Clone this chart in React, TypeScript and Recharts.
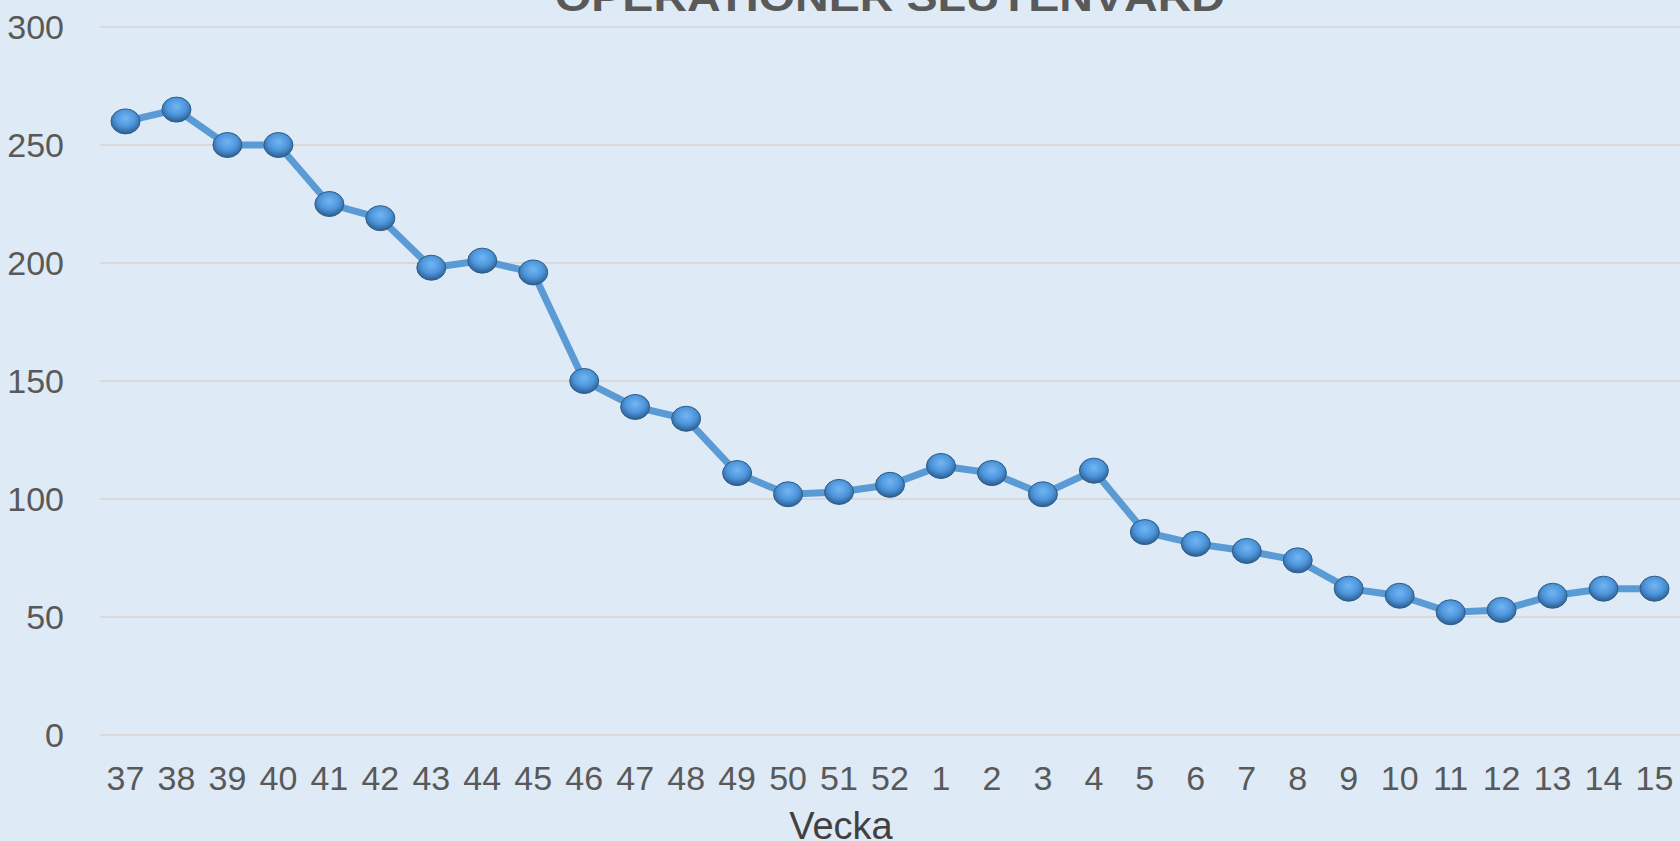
import { CartesianGrid, Line, LineChart, XAxis, YAxis } from 'recharts';

const weeks = ['37', '38', '39', '40', '41', '42', '43', '44', '45', '46', '47', '48', '49', '50', '51', '52', '1', '2', '3', '4', '5', '6', '7', '8', '9', '10', '11', '12', '13', '14', '15'];
const operations = [260, 265, 250, 250, 225, 219, 198, 201, 196, 150, 139, 134, 111, 102, 103, 106, 114, 111, 102, 112, 86, 81, 78, 74, 62, 59, 52, 53, 59, 62, 62];
const yTicks = [0, 50, 100, 150, 200, 250, 300];

const data = weeks.map((week, i) => ({ week, value: operations[i] }));

const FONT = '"Liberation Sans", Arial, sans-serif';

function XTick({ x, y, payload }: any) {
  return (
    <text x={x} y={y + 55} textAnchor="middle" fill="#595959" fontSize={34} fontFamily={FONT}>
      {payload.value}
    </text>
  );
}

function YTick({ x, y, payload }: any) {
  return (
    <text x={x} y={y + 12} textAnchor="end" fill="#595959" fontSize={34} fontFamily={FONT}>
      {payload.value}
    </text>
  );
}

function BallDot({ cx, cy, index }: any) {
  if (cx == null || cy == null) return null;
  return (
    <ellipse key={`dot-${index}`} cx={cx} cy={cy} rx={14.5} ry={12.5} fill="url(#ballGrad)" stroke="#2e5c88" strokeWidth={1} />
  );
}

export default function App() {
  return (
    <div style={{ position: 'fixed', left: 0, top: 0, width: 1680, height: 841, background: '#deeaf6', overflow: 'hidden' }}>
      <LineChart width={1680} height={841} data={data} margin={{ top: 27, right: 0, bottom: 76, left: 0 }}>
        <defs>
          <radialGradient id="ballGrad" cx="50%" cy="38%" r="62%">
            <stop offset="0%" stopColor="#72b6f2" />
            <stop offset="55%" stopColor="#4d95dc" />
            <stop offset="100%" stopColor="#2c5d8c" />
          </radialGradient>
        </defs>
        <text x={890} y={11} textAnchor="middle" fill="#595959" fontSize={40} fontWeight="bold" fontFamily={FONT} textLength={670} lengthAdjust="spacingAndGlyphs">
          OPERATIONER SLUTENVÅRD
        </text>
        <CartesianGrid vertical={false} stroke="#d9d9d9" strokeWidth={2} />
        <XAxis
          dataKey="week"
          tick={<XTick />}
          tickLine={false}
          axisLine={false}
          tickSize={0}
          tickMargin={0}
          interval={0}
          padding={{ left: 25.5, right: 25.5 }}
        />
        <YAxis
          domain={[0, 300]}
          ticks={yTicks}
          width={100}
          tick={<YTick />}
          tickLine={false}
          axisLine={false}
          tickSize={0}
          tickMargin={36}
        />
        <Line
          type="linear"
          dataKey="value"
          stroke="#5b9bd5"
          strokeWidth={7}
          dot={<BallDot />}
          activeDot={false}
          isAnimationActive={false}
        />
        <text x={841} y={839} textAnchor="middle" fill="#404040" fontSize={38} fontFamily={FONT}>
          Vecka
        </text>
      </LineChart>
    </div>
  );
}
